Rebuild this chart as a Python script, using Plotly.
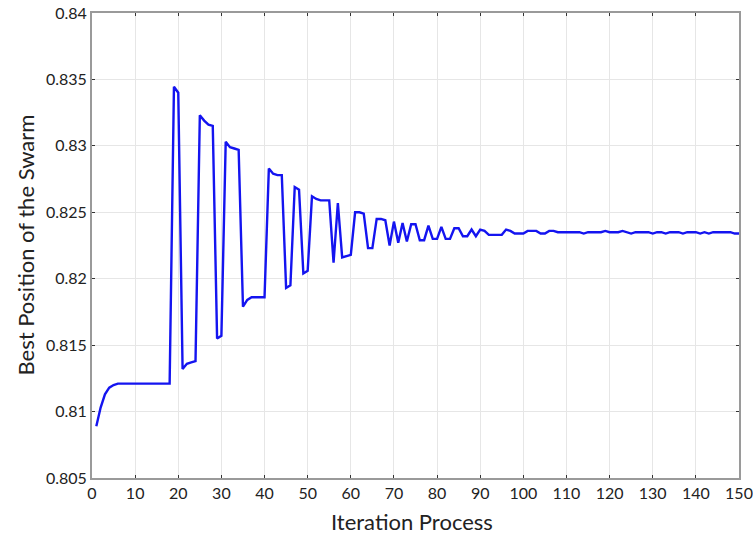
import plotly.graph_objects as go

iterations = list(range(1, 151))

best_position = [
    0.8089, 0.8103, 0.8113, 0.8118, 0.8120, 0.8121, 0.8121, 0.8121, 0.8121, 0.8121,   # 1-10
    0.8121, 0.8121, 0.8121, 0.8121, 0.8121, 0.8121, 0.8121, 0.8121, 0.83445, 0.8340,  # 11-20
    0.8132, 0.8136, 0.8137, 0.8138, 0.8323, 0.8319, 0.8316, 0.8315, 0.8155, 0.8157,   # 21-30
    0.8303, 0.8299, 0.8298, 0.8297, 0.8179, 0.8184, 0.8186, 0.8186, 0.8186, 0.8186,   # 31-40
    0.8283, 0.8279, 0.8278, 0.8278, 0.8193, 0.8195, 0.8269, 0.8267, 0.8204, 0.8206,   # 41-50
    0.8262, 0.8260, 0.8259, 0.8259, 0.8259, 0.8212, 0.8257, 0.8216, 0.8217, 0.8218,   # 51-60
    0.8250, 0.8250, 0.8249, 0.8223, 0.8223, 0.8245, 0.8245, 0.8244, 0.8225, 0.8243,   # 61-70
    0.8227, 0.8242, 0.8228, 0.8241, 0.8241, 0.8229, 0.8229, 0.8240, 0.8230, 0.8230,   # 71-80
    0.8239, 0.8230, 0.8230, 0.8238, 0.8238, 0.8232, 0.8232, 0.8237, 0.8232, 0.8237,   # 81-90
    0.8236, 0.8233, 0.8233, 0.8233, 0.8233, 0.8237, 0.8236, 0.8234, 0.8234, 0.8234,   # 91-100
    0.8236, 0.8236, 0.8236, 0.8234, 0.8234, 0.8236, 0.8236, 0.8235, 0.8235, 0.8235,   # 101-110
    0.8235, 0.8235, 0.8235, 0.8234, 0.8235, 0.8235, 0.8235, 0.8235, 0.8236, 0.8235,   # 111-120
    0.8235, 0.8235, 0.8236, 0.8235, 0.8234, 0.8235, 0.8235, 0.8235, 0.8235, 0.8234,   # 121-130
    0.8235, 0.8235, 0.8234, 0.8235, 0.8235, 0.8235, 0.8234, 0.8235, 0.8235, 0.8235,   # 131-140
    0.8234, 0.8235, 0.8234, 0.8235, 0.8235, 0.8235, 0.8235, 0.8235, 0.8234, 0.8234,   # 141-150
]

x_ticks = [0, 10, 20, 30, 40, 50, 60, 70, 80, 90, 100, 110, 120, 130, 140, 150]
y_ticks = [0.805, 0.81, 0.815, 0.82, 0.825, 0.83, 0.835, 0.84]
y_tick_labels = ["0.805", "0.81", "0.815", "0.82", "0.825", "0.83", "0.835", "0.84"]
x_title = "Iteration Process"
y_title = "Best Position of the Swarm"

fig = go.Figure()
fig.add_trace(go.Scatter(
    x=iterations, y=best_position, mode="lines",
    line=dict(color="#1414f0", width=2.4),
    showlegend=False,
))

font_family = "Lato, 'Open Sans', sans-serif"
text_color = "#222222"

fig.update_layout(
    width=753, height=535,
    margin=dict(l=92, r=14, t=13, b=57, autoexpand=False),
    paper_bgcolor="white", plot_bgcolor="white",
    font=dict(family=font_family, color=text_color),
    annotations=[
        dict(text=x_title, xref="paper", yref="paper", x=0.495, y=0, yshift=-43,
             xanchor="center", yanchor="middle", showarrow=False,
             font=dict(size=22, color=text_color)),
        dict(text=y_title, xref="paper", yref="paper", x=0, y=0.5, xshift=-67,
             xanchor="center", yanchor="middle", showarrow=False, textangle=-90,
             font=dict(size=22, color=text_color)),
    ],
)

axis_style = dict(
    showgrid=True, gridcolor="#e6e6e6", gridwidth=1,
    showline=True, linecolor="#9a9a9a", linewidth=2, mirror="ticks",
    ticks="inside", ticklen=3, tickcolor="#333333", tickwidth=1,
    tickfont=dict(size=16, color=text_color),
    zeroline=False, automargin=False, ticklabeloverflow="allow",
)

fig.update_xaxes(range=[0, 150], tickvals=x_ticks, **axis_style)
fig.update_yaxes(range=[0.805, 0.84], tickvals=y_ticks, ticktext=y_tick_labels, **axis_style)

fig.write_html("out.html", config={"displayModeBar": False},
               post_script="document.body.style.margin='0';")
